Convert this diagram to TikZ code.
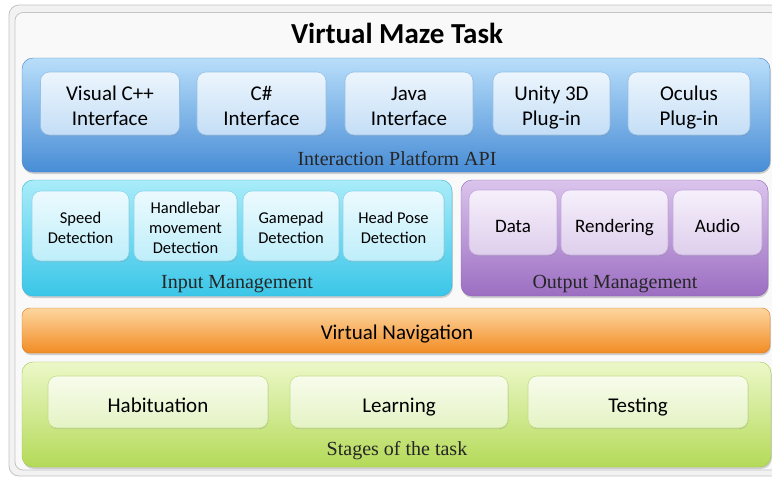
\documentclass[tikz,border=0pt]{standalone}
\usepackage{fontspec}
\setmainfont{Liberation Serif}
\newfontfamily\calfont{Carlito}
\usetikzlibrary{shadows}
\newcommand\tpst[1]{\rule{0pt}{#1pt}}
\newcommand\btst[1]{\rule[-#1pt]{0pt}{#1pt}}
\definecolor{frameline}{HTML}{C4C4C4}
\definecolor{framefill}{HTML}{F9F9F9}
\definecolor{blueTop}{RGB}{185,222,250}
\definecolor{blueBot}{RGB}{72,141,214}
\definecolor{blueLine}{RGB}{70,130,200}
\definecolor{bboxTop}{RGB}{236,245,253}
\definecolor{bboxBot}{RGB}{196,222,246}
\definecolor{bboxLine}{RGB}{150,192,232}
\definecolor{cyanTop}{RGB}{170,236,249}
\definecolor{cyanBot}{RGB}{58,198,232}
\definecolor{cyanLine}{RGB}{50,180,215}
\definecolor{cboxTop}{RGB}{236,250,254}
\definecolor{cboxBot}{RGB}{190,238,250}
\definecolor{cboxLine}{RGB}{140,214,235}
\definecolor{violTop}{RGB}{218,196,236}
\definecolor{violBot}{RGB}{156,110,194}
\definecolor{violLine}{RGB}{140,100,180}
\definecolor{pboxTop}{RGB}{246,240,251}
\definecolor{pboxBot}{RGB}{222,206,236}
\definecolor{pboxLine}{RGB}{196,170,222}
\definecolor{oranTop}{RGB}{253,214,160}
\definecolor{oranBot}{RGB}{242,140,36}
\definecolor{oranLine}{RGB}{220,120,30}
\definecolor{grenTop}{RGB}{236,248,200}
\definecolor{grenBot}{RGB}{180,218,88}
\definecolor{grenLine}{RGB}{160,200,80}
\definecolor{gboxTop}{RGB}{248,252,236}
\definecolor{gboxBot}{RGB}{228,243,196}
\definecolor{gboxLine}{RGB}{196,222,140}
\tikzset{
  band/.style={rounded corners=11pt, draw=#1, line width=0.4pt, inner sep=0pt,
    drop shadow={opacity=0.35, shadow xshift=0.8pt, shadow yshift=-2pt}},
  bandtext/.style={font=\fontsize{20}{22}\selectfont, text=black!85, anchor=base},
  inbox/.style={rounded corners=9pt, draw=#1, line width=0.6pt, align=center, inner sep=0pt,
    text=black, drop shadow={opacity=0.25, shadow xshift=0.6pt, shadow yshift=-1.2pt}},
  bluebox/.style={inbox=bboxLine, top color=bboxTop, bottom color=bboxBot,
    font=\calfont\fontsize{21}{25}\selectfont, minimum height=63},
  cyanbox/.style={inbox=cboxLine, top color=cboxTop, bottom color=cboxBot,
    font=\calfont\fontsize{16.5}{20}\selectfont, minimum height=70},
  purplebox/.style={inbox=pboxLine, top color=pboxTop, bottom color=pboxBot,
    font=\calfont\fontsize{19}{22}\selectfont, minimum height=65, text height=22, text depth=3},
  greenbox/.style={inbox=gboxLine, top color=gboxTop, bottom color=gboxBot,
    font=\calfont\fontsize{21}{25}\selectfont, minimum height=52, text height=23, text depth=3},
}
\begin{document}
\begin{tikzpicture}[x=1pt,y=-1pt]
\useasboundingbox (0,0) rectangle (772,477);
% outer frame
\path[rounded corners=10pt, draw=frameline, fill=black!5, line width=0.8pt] (9,5) rectangle (800,476);
\path[rounded corners=8pt, draw=frameline, fill=framefill, line width=0.8pt] (15,12.5) rectangle (795,470);
\node[font=\calfont\bfseries\fontsize{29}{32}\selectfont, anchor=base] (title) at (397,43) {Virtual Maze Task};

% Interaction Platform API band
\node[band=blueLine, top color=blueTop, bottom color=blueBot,
  minimum width=748, minimum height=114] (api) at (396,115) {};
\node[bandtext] (apilbl) at (397,165) {Interaction Platform API};
\node[bluebox, minimum width=139] (vcpp) at (110,103.5) {\tpst{24}Visual C++\\Interface\btst{6}};
\node[bluebox, minimum width=129] (cs) at (261.5,103.5) {\tpst{24}C\#\\Interface\btst{6}};
\node[bluebox, minimum width=128] (java) at (409,103.5) {\tpst{24}Java\\Interface\btst{6}};
\node[bluebox, minimum width=117] (unity) at (551.5,103.5) {\tpst{24}Unity 3D\\Plug-in\btst{6}};
\node[bluebox, minimum width=122] (oculus) at (689,103.5) {\tpst{24}Oculus\\Plug-in\btst{6}};

% Input Management band
\node[band=cyanLine, top color=cyanTop, bottom color=cyanBot,
  minimum width=430, minimum height=116] (input) at (237,238) {};
\node[bandtext] (inputlbl) at (237,288) {Input Management};
\node[cyanbox, minimum width=97] (speed) at (80.5,226) {\tpst{19}Speed\\Detection\btst{5}};
\node[cyanbox, minimum width=103] (handle) at (185.5,226) {\tpst{19}Handlebar\\movement\\Detection\btst{5}};
\node[cyanbox, minimum width=96] (gamepad) at (291,226) {\tpst{19}Gamepad\\Detection\btst{5}};
\node[cyanbox, minimum width=101] (head) at (393.5,226) {\tpst{19}Head Pose\\Detection\btst{5}};

% Output Management band
\node[band=violLine, top color=violTop, bottom color=violBot,
  minimum width=307, minimum height=116] (output) at (614.5,238) {};
\node[bandtext] (outputlbl) at (615,288) {Output Management};
\node[purplebox, minimum width=88] (data) at (513,222.5) {Data};
\node[purplebox, minimum width=107] (render) at (614.5,222.5) {Rendering};
\node[purplebox, minimum width=89] (audio) at (717.5,222.5) {Audio};

% Virtual Navigation band
\node[band=oranLine, rounded corners=8pt, top color=oranTop, bottom color=oranBot,
  minimum width=748, minimum height=45] (nav) at (396,330.5) {};
\node[font=\calfont\fontsize{21}{25}\selectfont, text=black, anchor=base] (navlbl) at (397,339) {Virtual Navigation};

% Stages of the task band
\node[band=grenLine, top color=grenTop, bottom color=grenBot,
  minimum width=749, minimum height=105] (stages) at (396.5,414.5) {};
\node[bandtext] (stageslbl) at (397,455) {Stages of the task};
\node[greenbox, minimum width=220] (habit) at (158,402) {Habituation};
\node[greenbox, minimum width=218] (learn) at (399,402) {Learning};
\node[greenbox, minimum width=220] (test) at (638,402) {Testing};
\end{tikzpicture}
\end{document}
